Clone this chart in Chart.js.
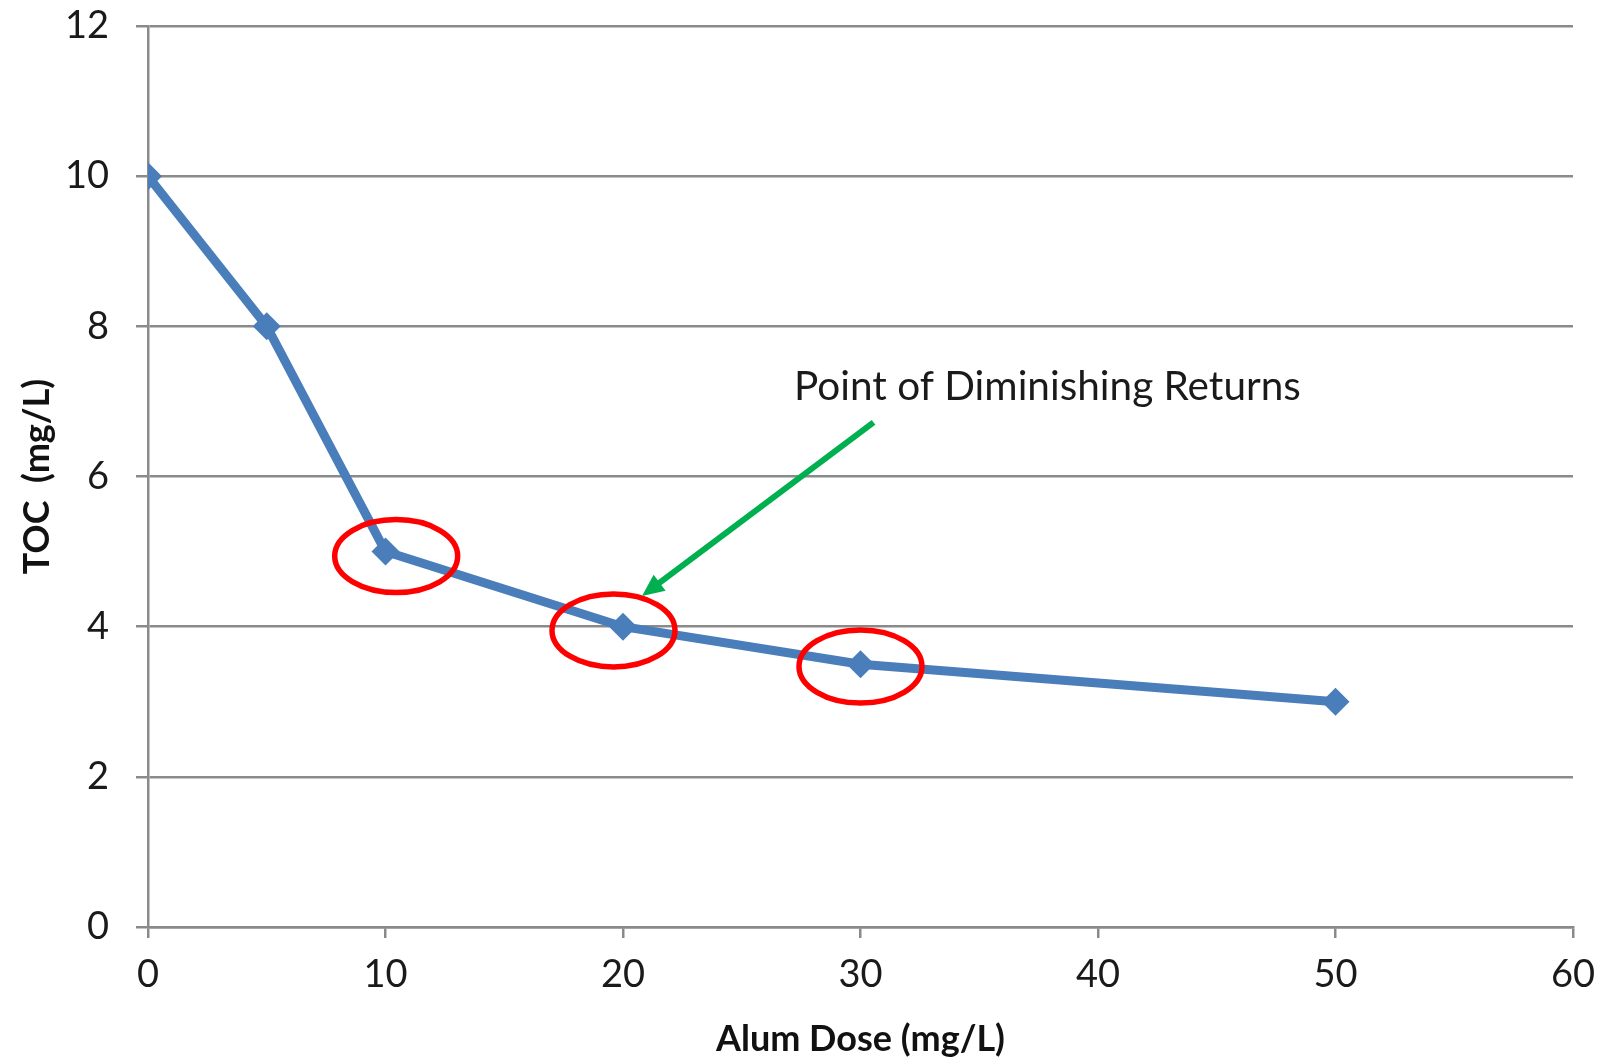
<!DOCTYPE html>
<html>
<head>
<meta charset="utf-8">
<script src="https://cdn.jsdelivr.net/npm/chart.js@4.4.1/dist/chart.umd.min.js"></script>
<style>
  html, body { margin: 0; padding: 0; background: #ffffff; }
  #wrap { width: 1621px; height: 1057px; }
</style>
</head>
<body>
<div id="wrap"><canvas id="c" width="1621" height="1057"></canvas></div>
<script>
// Alum dose (mg/L) versus total organic carbon (mg/L)
const doses = [0, 5, 10, 20, 30, 50];
const tocValues = [10, 8, 5, 4, 3.5, 3];
const xTicks = [0, 10, 20, 30, 40, 50, 60];
const yTicks = [0, 2, 4, 6, 8, 10, 12];

const xTitle = 'Alum Dose (mg/L)';
const yTitle = 'TOC  (mg/L)';
const noteText = 'Point of Diminishing Returns';

// Highlighted doses (ellipse centres, in data units)
const ringX = [10.45, 19.6, 30.0];
const ringY = [4.94, 3.95, 3.47];
// Arrow from the note towards the 20 mg/L point (data units)
const arrowFrom = [30.55, 6.72];
const arrowTo = [20.8, 4.41];
const noteAt = [27.2, 7.02];

const FONT = 'Lato, "Open Sans", sans-serif';
const GRID = '#8a8a8a';
const BLUE = '#4a7ebb';

const annotations = {
  id: 'annotations',
  afterDatasetsDraw(chart) {
    const { ctx, scales: { x, y } } = chart;
    ctx.save();
    // red rings
    ctx.strokeStyle = '#ff0000';
    ctx.lineWidth = 5.5;
    for (let i = 0; i < ringX.length; i++) {
      ctx.beginPath();
      ctx.ellipse(x.getPixelForValue(ringX[i]), y.getPixelForValue(ringY[i]), 61.5, 36.5, 0, 0, Math.PI * 2);
      ctx.stroke();
    }
    // green arrow
    const x0 = x.getPixelForValue(arrowFrom[0]), y0 = y.getPixelForValue(arrowFrom[1]);
    const x1 = x.getPixelForValue(arrowTo[0]), y1 = y.getPixelForValue(arrowTo[1]);
    const ang = Math.atan2(y1 - y0, x1 - x0);
    const headLen = 22, headHalf = 10;
    const bx = x1 - Math.cos(ang) * headLen, by = y1 - Math.sin(ang) * headLen;
    ctx.strokeStyle = '#00b050';
    ctx.fillStyle = '#00b050';
    ctx.lineWidth = 6;
    ctx.beginPath();
    ctx.moveTo(x0, y0);
    ctx.lineTo(bx + Math.cos(ang) * 2, by + Math.sin(ang) * 2);
    ctx.stroke();
    ctx.beginPath();
    ctx.moveTo(x1, y1);
    ctx.lineTo(bx + Math.sin(ang) * headHalf, by - Math.cos(ang) * headHalf);
    ctx.lineTo(bx - Math.sin(ang) * headHalf, by + Math.cos(ang) * headHalf);
    ctx.closePath();
    ctx.fill();
    // note
    ctx.fillStyle = '#1a1a1a';
    ctx.font = '40.5px ' + FONT;
    ctx.textAlign = 'left';
    ctx.textBaseline = 'alphabetic';
    ctx.fillText(noteText, x.getPixelForValue(noteAt[0]), y.getPixelForValue(noteAt[1]));
    ctx.restore();
  }
};

new Chart(document.getElementById('c'), {
  type: 'scatter',
  data: {
    datasets: [{
      data: doses.map((d, i) => ({ x: d, y: tocValues[i] })),
      showLine: true,
      borderColor: BLUE,
      backgroundColor: BLUE,
      borderWidth: 9,
      tension: 0,
      pointStyle: 'rectRot',
      pointRadius: 14,
      pointBorderWidth: 0,
      pointBackgroundColor: BLUE,
      borderJoinStyle: 'round'
    }]
  },
  options: {
    responsive: false,
    animation: false,
    events: [],
    layout: { padding: { left: 0, top: 26, right: 48, bottom: 0 } },
    plugins: { legend: { display: false }, tooltip: { enabled: false } },
    scales: {
      x: {
        type: 'linear',
        min: 0, max: 60,
        afterBuildTicks: s => { s.ticks = xTicks.map(v => ({ value: v })); },
        afterFit: s => { s.height = 1057 - 927; s.paddingLeft = 0; s.paddingRight = 0; },
        border: { display: true, color: GRID, width: 2.5 },
        grid: { drawOnChartArea: false, drawTicks: true, tickLength: 11, color: GRID, lineWidth: 2.5 },
        ticks: { color: '#1a1a1a', font: { family: FONT, size: 38 }, padding: 14, maxRotation: 0 },
        title: { display: true, text: xTitle, color: '#111111', font: { family: FONT, size: 36, weight: 'bold', lineHeight: 1 }, padding: { top: 0, bottom: 0 } }
      },
      y: {
        type: 'linear',
        min: 0, max: 12,
        afterBuildTicks: s => { s.ticks = yTicks.map(v => ({ value: v })); },
        afterFit: s => { s.width = 148; s.paddingTop = 0; s.paddingBottom = 0; },
        border: { display: true, color: GRID, width: 2.5 },
        grid: { drawOnChartArea: true, drawTicks: true, tickLength: 12, color: GRID, lineWidth: 2.5 },
        ticks: { color: '#1a1a1a', font: { family: FONT, size: 38 }, padding: 27 },
        title: { display: true, text: yTitle, color: '#111111', font: { family: FONT, size: 36, weight: 'bold', lineHeight: 1 }, padding: { top: 19, bottom: 0 } }
      }
    }
  },
  plugins: [annotations]
});
</script>
</body>
</html>
